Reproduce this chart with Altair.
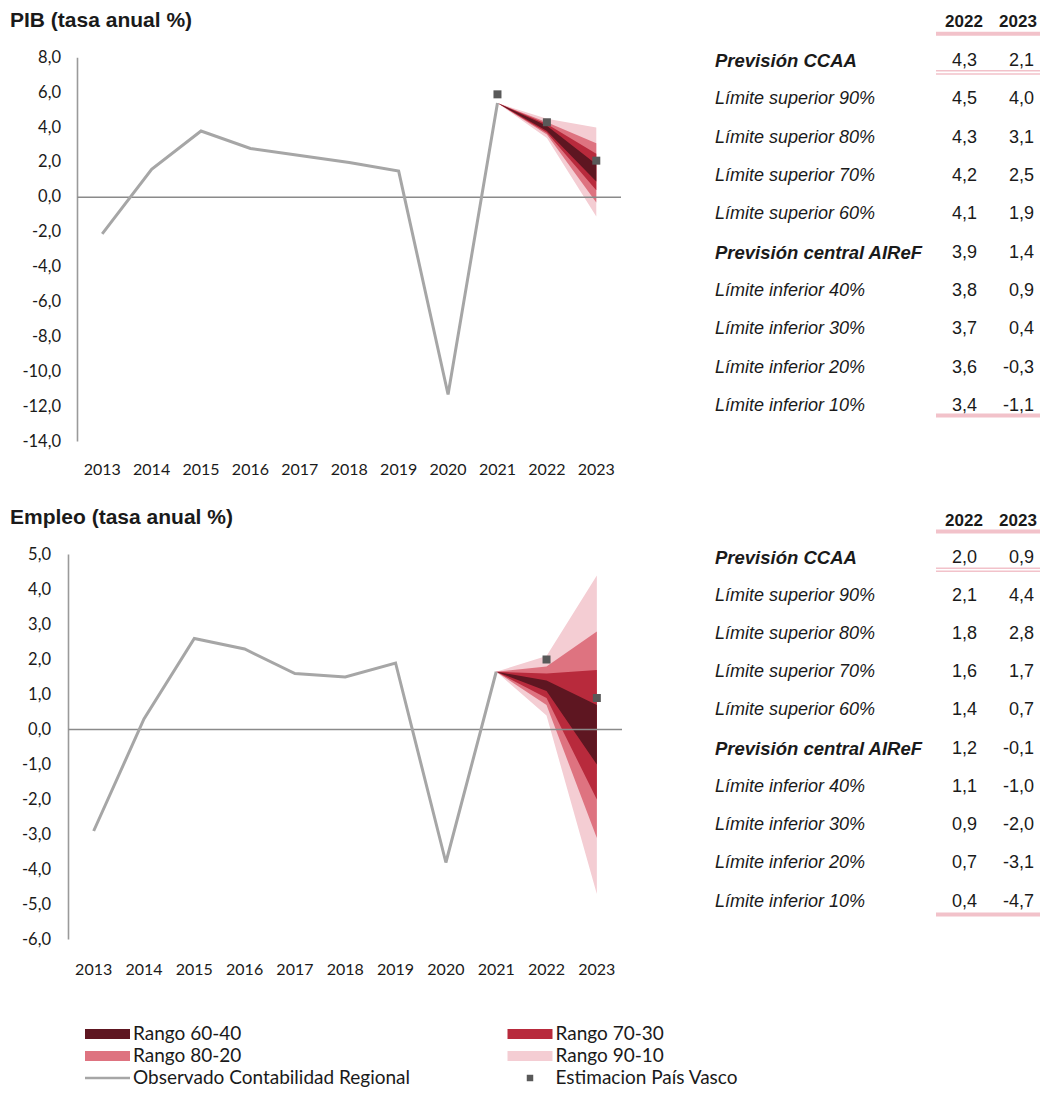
import altair as alt
import pandas as pd

# ---------------- data ----------------
YEARS = list(range(2013, 2024))
OBS_YEARS = list(range(2013, 2022))
PIB_OBS = [-2.1, 1.6, 3.8, 2.8, 2.4, 2.0, 1.5, -11.3, 5.4]
EMP_OBS = [-2.9, 0.3, 2.6, 2.3, 1.6, 1.5, 1.9, -3.8, 1.65]

PIB_EST_YEARS = [2021, 2022, 2023]
PIB_EST = [5.9, 4.3, 2.1]
EMP_EST_YEARS = [2022, 2023]
EMP_EST = [2.0, 0.9]

ROW_LABELS = [
    "Previsión CCAA",
    "Límite superior 90%",
    "Límite superior 80%",
    "Límite superior 70%",
    "Límite superior 60%",
    "Previsión central AIReF",
    "Límite inferior 40%",
    "Límite inferior 30%",
    "Límite inferior 20%",
    "Límite inferior 10%",
]
ROW_BOLD = [True, False, False, False, False, True, False, False, False, False]
PIB_2022 = [4.3, 4.5, 4.3, 4.2, 4.1, 3.9, 3.8, 3.7, 3.6, 3.4]
PIB_2023 = [2.1, 4.0, 3.1, 2.5, 1.9, 1.4, 0.9, 0.4, -0.3, -1.1]
EMP_2022 = [2.0, 2.1, 1.8, 1.6, 1.4, 1.2, 1.1, 0.9, 0.7, 0.4]
EMP_2023 = [0.9, 4.4, 2.8, 1.7, 0.7, -0.1, -1.0, -2.0, -3.1, -4.7]

PIB_YTICKS = [8, 6, 4, 2, 0, -2, -4, -6, -8, -10, -12, -14]
EMP_YTICKS = [5, 4, 3, 2, 1, 0, -1, -2, -3, -4, -5, -6]

BANDS = ["Rango 60-40", "Rango 70-30", "Rango 80-20", "Rango 90-10"]
BAND_COLORS = ["#5e1621", "#b82a3c", "#de7380", "#f4cdd3"]
# band -> (row of upper limit, row of lower limit) in the table
BAND_ROWS = {"Rango 60-40": (4, 6), "Rango 70-30": (3, 7), "Rango 80-20": (2, 8), "Rango 90-10": (1, 9)}

LEGEND_LABELS = BANDS + ["Observado Contabilidad Regional", "Estimacion País Vasco"]

GRAY_LINE = "#a6a6a6"
AXIS_GRAY = "#9a9a9a"
ZERO_GRAY = "#8a8a8a"
MARKER = "#595959"
PINK = "#f2c2ca"
TXT = "#1a1a1a"
LABEL_FONT = "Lato"
TABLE_FONT = "Liberation Sans"


def fmt(v):
    return f"{v:.1f}".replace(".", ",")


ONE = pd.DataFrame({"a": [0]})


def panel(title, obs, est_years, est, v22, v23, yticks, ydom, xr, yr,
          ylab_x, xlab_y, title_y, tab):
    xs = alt.Scale(domain=[2012.5, 2023.5], range=xr, nice=False, zero=False)
    ys = alt.Scale(domain=ydom, range=yr, nice=False, zero=False)
    X = lambda f: alt.X(f, scale=xs, axis=None)
    Y = lambda f: alt.Y(f, scale=ys, axis=None)
    L = []

    # fan chart, widest band first
    for band, color in reversed(list(zip(BANDS, BAND_COLORS))):
        u, l = BAND_ROWS[band]
        df = pd.DataFrame({
            "year": [2021, 2022, 2023],
            "hi": [obs[-1], v22[u], v23[u]],
            "lo": [obs[-1], v22[l], v23[l]],
        })
        L.append(alt.Chart(df).mark_area(color=color, opacity=1).encode(
            x=X("year:Q"), y=Y("hi:Q"), y2="lo:Q"))

    # axis line and zero line
    L.append(alt.Chart(pd.DataFrame({"x": [2012.5], "y0": [ydom[0]], "y1": [ydom[1]]}))
             .mark_rule(color=AXIS_GRAY, strokeWidth=1.6)
             .encode(x=X("x:Q"), y=Y("y0:Q"), y2="y1:Q"))
    L.append(alt.Chart(pd.DataFrame({"x0": [2012.5], "x1": [2023.5], "y": [0]}))
             .mark_rule(color=ZERO_GRAY, strokeWidth=1.4)
             .encode(x=X("x0:Q"), x2="x1:Q", y=Y("y:Q")))

    # observed line
    L.append(alt.Chart(pd.DataFrame({"year": OBS_YEARS, "v": obs}))
             .mark_line(color=GRAY_LINE, strokeWidth=3)
             .encode(x=X("year:Q"), y=Y("v:Q")))

    # estimation markers
    L.append(alt.Chart(pd.DataFrame({"year": est_years, "v": est}))
             .mark_square(color=MARKER, size=64, opacity=1)
             .encode(x=X("year:Q"), y=Y("v:Q")))

    # y tick labels
    L.append(alt.Chart(pd.DataFrame({"v": yticks, "lab": [fmt(t) for t in yticks]}))
             .mark_text(align="right", baseline="middle", font=LABEL_FONT, fontSize=16.5, color=TXT)
             .encode(y=Y("v:Q"), x=alt.value(ylab_x), text="lab:N"))
    # x tick labels
    L.append(alt.Chart(pd.DataFrame({"year": YEARS, "lab": [str(y) for y in YEARS]}))
             .mark_text(align="center", baseline="middle", font=LABEL_FONT, fontSize=16, color=TXT)
             .encode(x=X("year:Q"), y=alt.value(xlab_y), text="lab:N"))

    # title
    L.append(alt.Chart(pd.DataFrame({"t": [title]}))
             .mark_text(align="left", baseline="middle", font=TABLE_FONT, fontSize=21,
                        fontWeight="bold", color=TXT)
             .encode(x=alt.value(2), y=alt.value(title_y), text="t:N"))

    # ---------- table ----------
    rs = alt.Scale(domain=[0, 9], range=tab["rows"], nice=False, zero=False)
    tdf = pd.DataFrame({
        "i": list(range(10)),
        "lab": ROW_LABELS,
        "bold": ROW_BOLD,
        "s22": [fmt(v) for v in v22],
        "s23": [fmt(v) for v in v23],
    })
    RY = alt.Y("i:Q", scale=rs, axis=None)
    for b in (True, False):
        sub = tdf[tdf["bold"] == b]
        L.append(alt.Chart(sub).mark_text(align="left", baseline="middle", font=TABLE_FONT,
                                          fontSize=18.5 if b else 18, fontStyle="italic",
                                          fontWeight="bold" if b else "normal", color=TXT)
                 .encode(y=RY, x=alt.value(707), text="lab:N"))
    for col, xpos in (("s22", 969), ("s23", 1026)):
        L.append(alt.Chart(tdf).mark_text(align="right", baseline="middle", font=TABLE_FONT,
                                          fontSize=18, color=TXT)
                 .encode(y=RY, x=alt.value(xpos), text=f"{col}:N"))
    # header
    for lab, xpos in (("2022", 956), ("2023", 1010)):
        L.append(alt.Chart(pd.DataFrame({"t": [lab]}))
                 .mark_text(align="center", baseline="middle", font=TABLE_FONT, fontSize=17,
                            fontWeight="bold", color=TXT)
                 .encode(x=alt.value(xpos), y=alt.value(tab["head"]), text="t:N"))
    # pink rules
    for yv, w in ((tab["line_top"], 4), (tab["dbl"][0], 1.4), (tab["dbl"][1], 1.4), (tab["line_bot"], 4)):
        L.append(alt.Chart(ONE).mark_rule(color=PINK, strokeWidth=w)
                 .encode(x=alt.value(928), x2=alt.value(1039), y=alt.value(yv)))
    return L


layers = []
layers += panel("PIB (tasa anual %)", PIB_OBS, PIB_EST_YEARS, PIB_EST, PIB_2022, PIB_2023,
                PIB_YTICKS, [-14, 8], [69.5, 613], [433.6, 49.7],
                ylab_x=53, xlab_y=462, title_y=12.5,
                tab={"rows": [53, 398], "head": 13.5, "line_top": 25.8,
                     "dbl": (62.7, 66.0), "line_bot": 407.5})
layers += panel("Empleo (tasa anual %)", EMP_OBS, EMP_EST_YEARS, EMP_EST, EMP_2022, EMP_2023,
                EMP_YTICKS, [-6, 5], [60.5, 614], [931.5, 546.5],
                ylab_x=43, xlab_y=962, title_y=509.5,
                tab={"rows": [549.5, 893.5], "head": 513, "line_top": 523.5,
                     "dbl": (560.3, 563.3), "line_bot": 906.5})

# ---------- legend ----------
ldf = pd.DataFrame({
    "lab": LEGEND_LABELS,
    "col": [i % 2 for i in range(6)],
    "row": [i // 2 for i in range(6)],
})
lx = alt.Scale(domain=[0, 1], range=[99.5, 522], nice=False, zero=False)
ly = alt.Scale(domain=[0, 2], range=[1026, 1070], nice=False, zero=False)
LX = alt.X("col:Q", scale=lx, axis=None)
LY = alt.Y("row:Q", scale=ly, axis=None)

layers.append(alt.Chart(ldf[ldf["lab"].isin(BANDS)])
              .mark_tick(orient="horizontal", size=45, thickness=10, opacity=1)
              .encode(x=LX, y=LY,
                      color=alt.Color("lab:N", scale=alt.Scale(domain=BANDS, range=BAND_COLORS),
                                      legend=None)))
layers.append(alt.Chart(ldf[ldf["lab"] == LEGEND_LABELS[4]])
              .mark_tick(orient="horizontal", size=45, thickness=2.5, color=GRAY_LINE, opacity=1)
              .encode(x=LX, y=LY))
layers.append(alt.Chart(ldf[ldf["lab"] == LEGEND_LABELS[5]])
              .mark_square(size=42, color=MARKER, opacity=1)
              .encode(x=LX, y=LY))
layers.append(alt.Chart(ldf)
              .mark_text(align="left", baseline="middle", dx=25.5, font=LABEL_FONT,
                         fontSize=19, color=TXT)
              .encode(x=LX, y=LY, text="lab:N"))

chart = (
    alt.layer(*layers)
    .resolve_scale(x="independent", y="independent", color="independent")
    .properties(width=1032, height=1085, autosize=alt.AutoSizeParams(type="none"), padding=0)
    .configure_view(stroke=None)
)

chart.save("out.html", embed_options={"renderer": "svg", "actions": False})
